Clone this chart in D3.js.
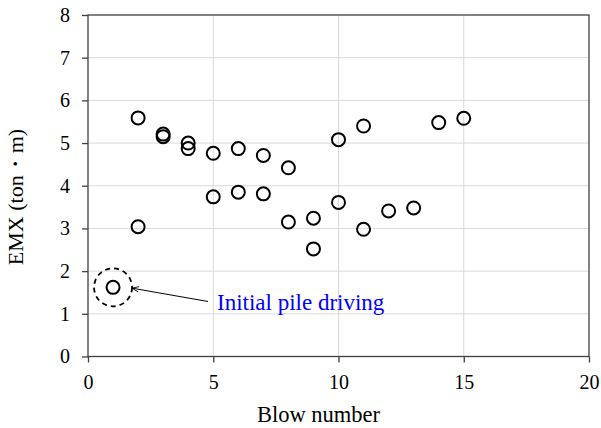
<!DOCTYPE html>
<html>
<head>
<meta charset="utf-8">
<script src="https://cdn.jsdelivr.net/npm/d3@7"></script>
<style>
  body { margin: 0; background: #fff; }
  text { font-family: "Liberation Serif", "Times New Roman", serif; }
</style>
</head>
<body>
<svg id="chart" width="601" height="428"></svg>
<script>
// blow number vs EMX readings
const blowNumber = [1, 2, 2, 3, 3, 4, 4, 5, 5, 6, 6, 7, 7, 8, 8, 9, 9, 10, 10, 11, 11, 12, 13, 14, 15];
const emxValues  = [1.62, 5.59, 3.04, 5.21, 5.15, 5.00, 4.87, 4.76, 3.74, 4.87, 3.85, 4.71, 3.81, 4.42, 3.15, 3.24, 2.52, 5.08, 3.61, 5.40, 2.98, 3.41, 3.48, 5.48, 5.58];
const xTicks = [0, 5, 10, 15, 20];
const yTicks = [0, 1, 2, 3, 4, 5, 6, 7, 8];
const highlight = { x: 1, y: 1.62, label: 'Initial pile driving' };

const svg = d3.select('#chart');
const m = { left: 88, right: 12, top: 15, bottom: 71.5 };
const W = 601, H = 428;

const x = d3.scaleLinear().domain([0, 20]).range([m.left, W - m.right]);
const y = d3.scaleLinear().domain([0, 8]).range([H - m.bottom, m.top]);

// grid
const grid = svg.append('g').attr('stroke', '#d9d9d9').attr('stroke-width', 1);
grid.selectAll('.gy').data(yTicks.slice(1, -1)).join('line')
    .attr('x1', x(0)).attr('x2', x(20))
    .attr('y1', d => y(d)).attr('y2', d => y(d));
grid.selectAll('.gx').data(xTicks.slice(1, -1)).join('line')
    .attr('y1', y(0)).attr('y2', y(8))
    .attr('x1', d => x(d)).attr('x2', d => x(d));

// frame
svg.append('rect')
    .attr('x', x(0)).attr('y', y(8))
    .attr('width', x(20) - x(0)).attr('height', y(0) - y(8))
    .attr('fill', 'none').attr('stroke', '#404040').attr('stroke-width', 1.3);

// axes
const xAxis = svg.append('g')
    .attr('transform', `translate(0,${y(0)})`)
    .call(d3.axisBottom(x).tickValues(xTicks).tickSize(6).tickPadding(12));
const yAxis = svg.append('g')
    .attr('transform', `translate(${x(0)},0)`)
    .call(d3.axisLeft(y).tickValues(yTicks).tickSize(6).tickPadding(12));
[xAxis, yAxis].forEach(a => {
    a.select('.domain').remove();
    a.selectAll('line').attr('stroke', '#404040').attr('stroke-width', 1.3);
    a.selectAll('text').attr('font-size', 20).attr('fill', '#000')
        .style('font-family', '"Liberation Serif", serif');
});

// points
svg.append('g').selectAll('circle')
    .data(blowNumber.map((b, i) => ({ b, v: emxValues[i] })))
    .join('circle')
    .attr('cx', d => x(d.b)).attr('cy', d => y(d.v)).attr('r', 6.5)
    .attr('fill', 'none').attr('stroke', '#000').attr('stroke-width', 2);

// annotation
svg.append('circle')
    .attr('cx', x(highlight.x)).attr('cy', y(highlight.y)).attr('r', 19)
    .attr('fill', 'none').attr('stroke', '#000').attr('stroke-width', 1.8)
    .attr('stroke-dasharray', '5,4');

svg.append('defs').append('marker')
    .attr('id', 'arrow').attr('viewBox', '0 0 10 10')
    .attr('refX', 10).attr('refY', 5)
    .attr('markerWidth', 7).attr('markerHeight', 7)
    .attr('orient', 'auto')
    .append('path').attr('d', 'M0,1 L10,5 L0,9').attr('fill', 'none')
    .attr('stroke', '#000').attr('stroke-width', 1.2);

svg.append('line')
    .attr('x1', 208).attr('y1', 301.5)
    .attr('x2', x(highlight.x) + 19).attr('y2', y(highlight.y) + 0.8)
    .attr('stroke', '#000').attr('stroke-width', 1)
    .attr('marker-end', 'url(#arrow)');

svg.append('text')
    .attr('x', 217).attr('y', 310)
    .attr('font-size', 23).attr('fill', '#0000ff')
    .text(highlight.label);

// axis titles
svg.append('text')
    .attr('x', 318.5).attr('y', 422)
    .attr('text-anchor', 'middle').attr('font-size', 22.5)
    .text('Blow number');

svg.append('text')
    .attr('transform', 'translate(23,197) rotate(-90)')
    .attr('text-anchor', 'middle').attr('font-size', 22)
    .text('EMX (ton・m)');
</script>
</body>
</html>
